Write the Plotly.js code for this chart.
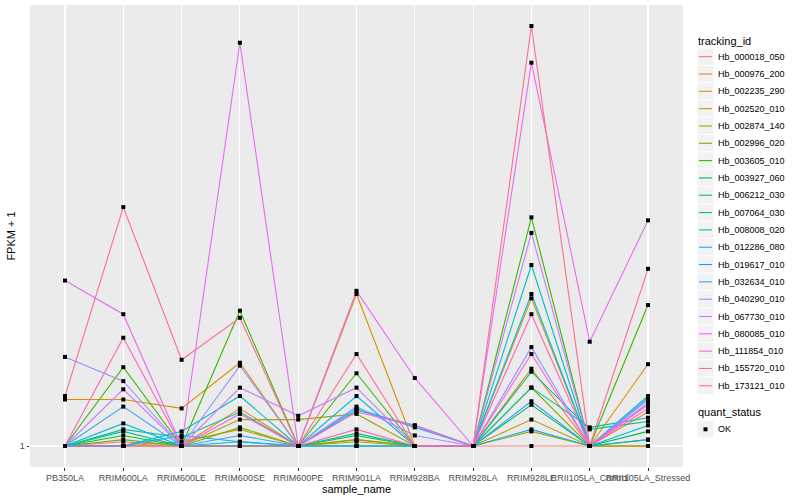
<!DOCTYPE html>
<html><head><meta charset="utf-8">
<script src="https://cdn.plot.ly/plotly-3.0.1.min.js"></script>
<style>body{margin:0;background:#fff}#chart{width:800px;height:500px}</style>
</head><body><div id="chart"></div>
<script>
// ---- data ----
const sampleNames = ["PB350LA","RRIM600LA","RRIM600LE","RRIM600SE","RRIM600PE","RRIM901LA","RRIM928BA","RRIM928LA","RRIM928LE","RRII105LA_Control","RRII105LA_Stressed"];
const trackingIds = ["Hb_000018_050","Hb_000976_200","Hb_002235_290","Hb_002520_010","Hb_002874_140","Hb_002996_020","Hb_003605_010","Hb_003927_060","Hb_006212_030","Hb_007064_030","Hb_008008_020","Hb_012286_080","Hb_019617_010","Hb_032634_010","Hb_040290_010","Hb_067730_010","Hb_080085_010","Hb_111854_010","Hb_155720_010","Hb_173121_010"];
const Hb_000018_050 = [1,1.02,1,1,1,1,1,1,1,1,1];
const Hb_000976_200 = [1,1,1,1.19,1,1.03,1,1,1.43,1,1.17];
const Hb_002235_290 = [1.24,1.24,1.19,1.47,1,2.02,1,1,1.98,1,1.46];
const Hb_002520_010 = [1,1,1.02,1.08,1,1.02,1,1,1.13,1,1];
const Hb_002874_140 = [1,1,1,1.13,1.13,1.16,1,1,1.07,1,1];
const Hb_002996_020 = [1,1.03,1,1.09,1,1.03,1,1,1.31,1,1.03];
const Hb_003605_010 = [1,1.44,1,1.87,1,1.40,1,1,2.88,1,1.92];
const Hb_003927_060 = [1,1.05,1,1,1,1.05,1,1,1.21,1,1.07];
const Hb_006212_030 = [1,1.07,1,1,1,1.06,1,1,1.41,1.08,1.12];
const Hb_007064_030 = [1,1.08,1.04,1.17,1,1,1,1,1.31,1.09,1.14];
const Hb_008008_020 = [1,1,1.07,1.26,1,1.18,1.10,1,2.31,1,1.26];
const Hb_012286_080 = [1,1.11,1,1.02,1,1.26,1,1,2.02,1,1.10];
const Hb_019617_010 = [1,1,1.05,1.02,1,1,1,1,1.08,1,1.03];
const Hb_032634_010 = [1,1.20,1,1.05,1,1.19,1.09,1,1.23,1,1.24];
const Hb_040290_010 = [1.51,1.35,1,1.45,1,1.20,1.05,1,1.58,1,1.25];
const Hb_067730_010 = [1,1.30,1,1.31,1.15,1.31,1,1,2.68,1,1.22];
const Hb_080085_010 = [2.15,1.84,1,6.46,1,2.05,1.37,1,5.89,1.62,2.84];
const Hb_111854_010 = [1,1,1,1.16,1,1.17,1.10,1,1.53,1,1.21];
const Hb_155720_010 = [1,1.65,1,1,1,1.08,1,1,1.84,1,1.19];
const Hb_173121_010 = [1.26,3.02,1.49,1.81,1,1.53,1,1,6.98,1,2.27];
const seriesValues = [Hb_000018_050,Hb_000976_200,Hb_002235_290,Hb_002520_010,Hb_002874_140,Hb_002996_020,Hb_003605_010,Hb_003927_060,Hb_006212_030,Hb_007064_030,Hb_008008_020,Hb_012286_080,Hb_019617_010,Hb_032634_010,Hb_040290_010,Hb_067730_010,Hb_080085_010,Hb_111854_010,Hb_155720_010,Hb_173121_010];
const quantStatus = ["OK"];
const yTickVals = [1];
const yTickText = ["1"];

// ---- style ----
const colors = ["#F8766D","#EA8331","#D89000","#C09B00","#A3A500","#7CAE00","#39B600","#00BB4E","#00BF7D","#00C1A3","#00BFC4","#00BAE0","#00B0F6","#35A2FF","#9590FF","#C77CFF","#E76BF3","#FA62DB","#FF62BC","#FF6C91"];
const FONT = "Liberation Sans, Arial, Helvetica, sans-serif";

const traces = seriesValues.map((vals, i) => ({
  type: 'scatter', mode: 'lines', x: sampleNames, y: vals, name: trackingIds[i],
  line: {color: colors[i], width: 1.1}, showlegend: false, hoverinfo: 'skip'
}));
const px = [], py = [];
seriesValues.forEach(vals => vals.forEach((v, j) => { px.push(sampleNames[j]); py.push(v); }));
traces.push({type: 'scatter', mode: 'markers', x: px, y: py, name: quantStatus[0],
  marker: {symbol: 'square', size: 4, color: '#000'}, showlegend: false, hoverinfo: 'skip'});

// panel in pixels
const L = 30, R = 683, T = 5, B = 467;
const fx = x => (x - L) / (R - L);
const fy = y => (B - y) / (B - T);

const shapes = [], annotations = [];
annotations.push({xref:'paper', yref:'paper', x: fx(696), y: fy(40.7), xanchor:'left', yanchor:'middle',
  text:'tracking_id', showarrow:false, font:{family:FONT, size:11, color:'#000'}});
trackingIds.forEach((id, i) => {
  const yc = 56.7 + 17.32 * i;
  shapes.push({type:'rect', xref:'paper', yref:'paper', x0: fx(697), x1: fx(714), y0: fy(yc + 8.66), y1: fy(yc - 8.66),
    fillcolor:'#F2F2F2', line:{color:'#fff', width:1}});
  shapes.push({type:'line', xref:'paper', yref:'paper', x0: fx(699), x1: fx(712), y0: fy(yc), y1: fy(yc),
    line:{color: colors[i], width: 1.1}});
  annotations.push({xref:'paper', yref:'paper', x: fx(716), y: fy(yc), xanchor:'left', yanchor:'middle',
    text: id, showarrow:false, font:{family:FONT, size:9, color:'#000'}});
});
annotations.push({xref:'paper', yref:'paper', x: fx(696), y: fy(412.3), xanchor:'left', yanchor:'middle',
  text:'quant_status', showarrow:false, font:{family:FONT, size:11, color:'#000'}});
shapes.push({type:'rect', xref:'paper', yref:'paper', x0: fx(697), x1: fx(714), y0: fy(429.3 + 8.66), y1: fy(429.3 - 8.66),
  fillcolor:'#F2F2F2', line:{color:'#fff', width:1}});
shapes.push({type:'rect', xref:'paper', yref:'paper', x0: fx(703.5), x1: fx(707.5), y0: fy(431.3), y1: fy(427.3),
  fillcolor:'#000', line:{width:0}});
annotations.push({xref:'paper', yref:'paper', x: fx(716), y: fy(429.3), xanchor:'left', yanchor:'middle',
  text: quantStatus[0], showarrow:false, font:{family:FONT, size:9, color:'#000'}});

const maxLog = Math.log10(Math.max(...seriesValues.flat()));
const pad = 0.05 * maxLog;

const layout = {
  width: 800, height: 500,
  margin: {l: L, r: 800 - R, t: T, b: 500 - B},
  paper_bgcolor: '#fff', plot_bgcolor: '#EBEBEB',
  font: {family: FONT, color: '#000'},
  showlegend: false, hovermode: false,
  xaxis: {type: 'category', range: [-0.6, sampleNames.length - 0.4], automargin: false,
    showgrid: true, gridcolor: '#fff', gridwidth: 1.1, zeroline: false, showline: false,
    ticks: 'outside', ticklen: 2.5, tickcolor: '#333', tickwidth: 1, tickangle: 0,
    tickfont: {family: FONT, size: 9, color: '#4D4D4D'},
    title: {text: 'sample_name', font: {family: FONT, size: 11, color: '#000'}, standoff: 0}},
  yaxis: {type: 'log', range: [-pad, maxLog + pad], automargin: false,
    tickvals: yTickVals, ticktext: yTickText,
    showgrid: true, gridcolor: '#fff', gridwidth: 1.1, zeroline: false, showline: false,
    ticks: 'outside', ticklen: 2.5, tickcolor: '#333', tickwidth: 1,
    tickfont: {family: FONT, size: 9, color: '#4D4D4D'},
    title: {text: 'FPKM + 1', font: {family: FONT, size: 11, color: '#000'}, standoff: 1}},
  shapes: shapes, annotations: annotations
};
Plotly.newPlot('chart', traces, layout, {displayModeBar: false, staticPlot: true});
</script></body></html>
